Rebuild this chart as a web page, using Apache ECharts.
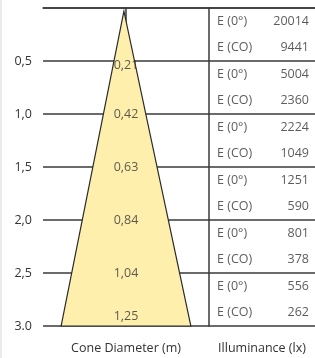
<!DOCTYPE html>
<html>
<head>
<meta charset="utf-8">
<script src="https://cdn.jsdelivr.net/npm/echarts@6/dist/echarts.min.js"></script>
<style>
  html, body { margin: 0; padding: 0; background: #fff; }
  #chart { width: 315px; height: 358px; }
</style>
</head>
<body>
<div id="chart"></div>
<script>
// distance (m) and cone diameter (m)
const depths = [0.5, 1.0, 1.5, 2.0, 2.5, 3.0];
const diameters = ['0,21', '0,42', '0,63', '0,84', '1,04', '1,25'];
const baseDiameter = 1.25;
const yTickLabels = ['', '0,5', '1,0', '1,5', '2,0', '2,5', '3.0'];

// illuminance table, one pair per distance
const e0Values = [20014, 5004, 2224, 1251, 801, 556];
const eCoValues = [9441, 2360, 1049, 590, 378, 262];
const rowNames = ['E (0°)', 'E (CO)'];

const textColor = '#333';
const lineColor = '#3a3a3a';
const font = 'Open Sans';
const fontSize = 12.5;

const chart = echarts.init(document.getElementById('chart'));

// triangle polygon: apex at top, base = diameter at last depth
const conePoints = [[-0.02, 0.03], [-baseDiameter / 2, 3], [baseDiameter / 2, 3]];

// label rows for table: two rows per band
const tableRows = [];
depths.forEach((d, i) => {
    tableRows.push({ name: rowNames[0], value: e0Values[i], y: d - 0.375 });
    tableRows.push({ name: rowNames[1], value: eCoValues[i], y: d - 0.125 });
});

const labelOffsets = [4, 0, 0, 0, 0, -10];

chart.setOption({
    animation: false,
    textStyle: { fontFamily: font },
    grid: [
        { left: 43, right: 106, top: 8, bottom: 32, outerBoundsMode: 'none', containLabel: false },
        { left: 209, right: 0, top: 8, bottom: 32, outerBoundsMode: 'none', containLabel: false }
    ],
    xAxis: [
        {
            gridIndex: 0, type: 'value', min: -0.8, max: 0.8,
            name: 'Cone Diameter (m)', nameLocation: 'middle', nameGap: 16,
            nameTextStyle: { color: textColor, fontSize: fontSize, fontFamily: font },
            axisLine: { show: true, lineStyle: { color: lineColor, width: 1.5 } },
            axisTick: { show: false }, axisLabel: { show: false }, splitLine: { show: false }
        },
        {
            gridIndex: 1, type: 'value', min: 0, max: 106,
            name: 'Illuminance (lx)', nameLocation: 'middle', nameGap: 16,
            nameTextStyle: { color: textColor, fontSize: fontSize, fontFamily: font },
            axisLine: { show: true, lineStyle: { color: lineColor, width: 1.5 } },
            axisTick: { show: false }, axisLabel: { show: false }, splitLine: { show: false }
        }
    ],
    yAxis: [
        {
            gridIndex: 0, type: 'value', min: 0, max: 3, interval: 0.5, inverse: true,
            axisLine: { show: true, lineStyle: { color: lineColor, width: 1.5 } },
            axisTick: { show: false },
            axisLabel: {
                color: textColor, fontSize: fontSize, margin: 11, fontFamily: font,
                formatter: (v) => yTickLabels[Math.round(v / 0.5)]
            },
            splitLine: { show: true, lineStyle: { color: lineColor, width: 1.5 } }
        },
        {
            gridIndex: 1, type: 'value', min: 0, max: 3, interval: 0.5, inverse: true,
            axisLine: { show: true, lineStyle: { color: lineColor, width: 1.5 } },
            axisTick: { show: false }, axisLabel: { show: false },
            splitLine: { show: true, lineStyle: { color: lineColor, width: 1.5 } }
        }
    ],
    graphic: [{
        type: 'line', shape: { x1: 1, y1: 0, x2: 1, y2: 358 },
        style: { stroke: '#e4e4e4', lineWidth: 1.5 }
    }],
    series: [
        {
            type: 'custom',
            xAxisIndex: 0, yAxisIndex: 0,
            data: [0],
            renderItem: (params, api) => ({
                type: 'polygon',
                shape: { points: conePoints.map(p => api.coord(p)) },
                style: { fill: '#ffefad', stroke: '#2a2a2a', lineWidth: 1.2 }
            })
        },
        {
            type: 'scatter',
            xAxisIndex: 0, yAxisIndex: 0,
            symbolSize: 0,
            data: depths.map((d, i) => ({
                value: [0, d],
                label: { offset: [0, labelOffsets[i]] }
            })),
            label: {
                show: true, position: 'inside', color: textColor, fontSize: fontSize, fontFamily: font,
                formatter: (p) => diameters[p.dataIndex]
            },
            z: 5
        },
        {
            type: 'scatter',
            xAxisIndex: 1, yAxisIndex: 1,
            symbolSize: 0,
            data: tableRows.map(r => [8, r.y]),
            label: {
                show: true, position: 'right', distance: 0, color: textColor, fontSize: fontSize, fontFamily: font,
                formatter: (p) => tableRows[p.dataIndex].name
            }
        },
        {
            type: 'scatter',
            xAxisIndex: 1, yAxisIndex: 1,
            symbolSize: 0,
            data: tableRows.map(r => [100, r.y]),
            label: {
                show: true, position: 'left', distance: 0, color: textColor, fontSize: fontSize, fontFamily: font,
                formatter: (p) => String(tableRows[p.dataIndex].value)
            }
        }
    ]
});

window.addEventListener('resize', () => chart.resize());
</script>
</body>
</html>
